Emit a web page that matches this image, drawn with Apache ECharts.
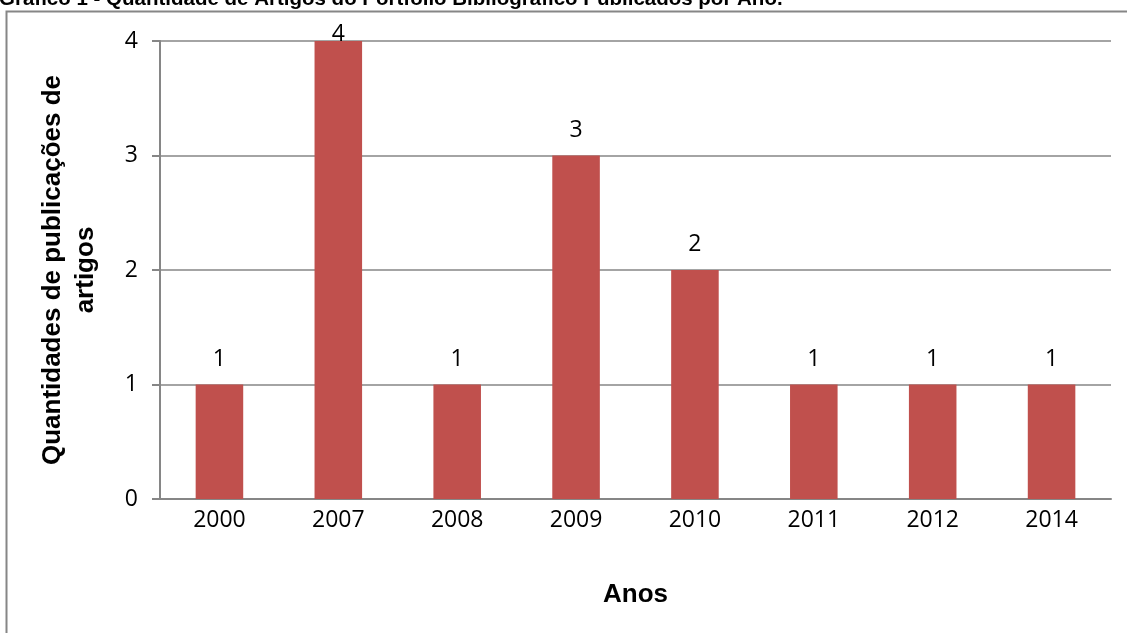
<!DOCTYPE html>
<html>
<head>
<meta charset="utf-8">
<script src="https://cdn.jsdelivr.net/npm/echarts@6/dist/echarts.min.js"></script>
<style>
html,body{margin:0;padding:0;background:#fff;}
#chart{width:1127px;height:633px;}
</style>
</head>
<body>
<div id="chart"></div>
<script>
const categories = ['2000', '2007', '2008', '2009', '2010', '2011', '2012', '2014'];
const publicacoes = [1, 4, 1, 3, 2, 1, 1, 1];
const yTicks = [0, 1, 2, 3, 4];
const titleText = 'Gráfico 1 - Quantidade de Artigos do Portfolio Bibliográfico Publicados por Ano.';
const xName = 'Anos';
const yName = 'Quantidades de publicações de\nartigos';

const chart = echarts.init(document.getElementById('chart'));
const gray = '#868686';
chart.setOption({
  animation: false,
  backgroundColor: '#fff',
  title: {
    text: titleText,
    left: -1,
    top: -11,
    padding: 0,
    textStyle: { fontFamily: 'Liberation Sans', fontWeight: 'bold', fontSize: 20.5, color: '#000' }
  },
  graphic: [{
    type: 'rect',
    shape: { x: 6.5, y: 11.5, width: 1300, height: 800 },
    style: { fill: 'none', stroke: gray, lineWidth: 2 },
    silent: true
  }],
  grid: { left: 160, right: 16, top: 41, bottom: 134, containLabel: false },
  xAxis: {
    type: 'category',
    data: categories,
    name: xName,
    nameLocation: 'middle',
    nameGap: 83,
    nameTextStyle: { fontFamily: 'Liberation Sans', fontWeight: 'bold', fontSize: 26, color: '#000' },
    axisLine: { lineStyle: { color: gray, width: 2 } },
    axisTick: { show: false },
    axisLabel: { fontFamily: 'Open Sans', fontSize: 23, color: '#000', margin: 10 }
  },
  yAxis: {
    type: 'value',
    min: yTicks[0],
    max: yTicks[yTicks.length - 1],
    interval: 1,
    name: yName,
    nameLocation: 'middle',
    nameGap: 58,
    nameTextStyle: { fontFamily: 'Liberation Sans', fontWeight: 'bold', fontSize: 26, color: '#000', lineHeight: 33, align: 'center' },
    axisLine: { show: true, lineStyle: { color: gray, width: 2 } },
    axisTick: { show: true, length: 8, lineStyle: { color: gray, width: 2 } },
    splitLine: { lineStyle: { color: gray, width: 1.5 } },
    axisLabel: { fontFamily: 'Open Sans', fontSize: 23, color: '#000', margin: 22 }
  },
  series: [{
    type: 'bar',
    data: publicacoes.map((v, i) => ({
      value: v,
      label: { distance: v === yTicks[yTicks.length - 1] ? -5 : 14 }
    })),
    barWidth: '40%',
    itemStyle: { color: '#C0504D' },
    label: { show: true, position: 'top', fontFamily: 'Open Sans', fontSize: 23, color: '#000' }
  }]
});
</script>
</body>
</html>
